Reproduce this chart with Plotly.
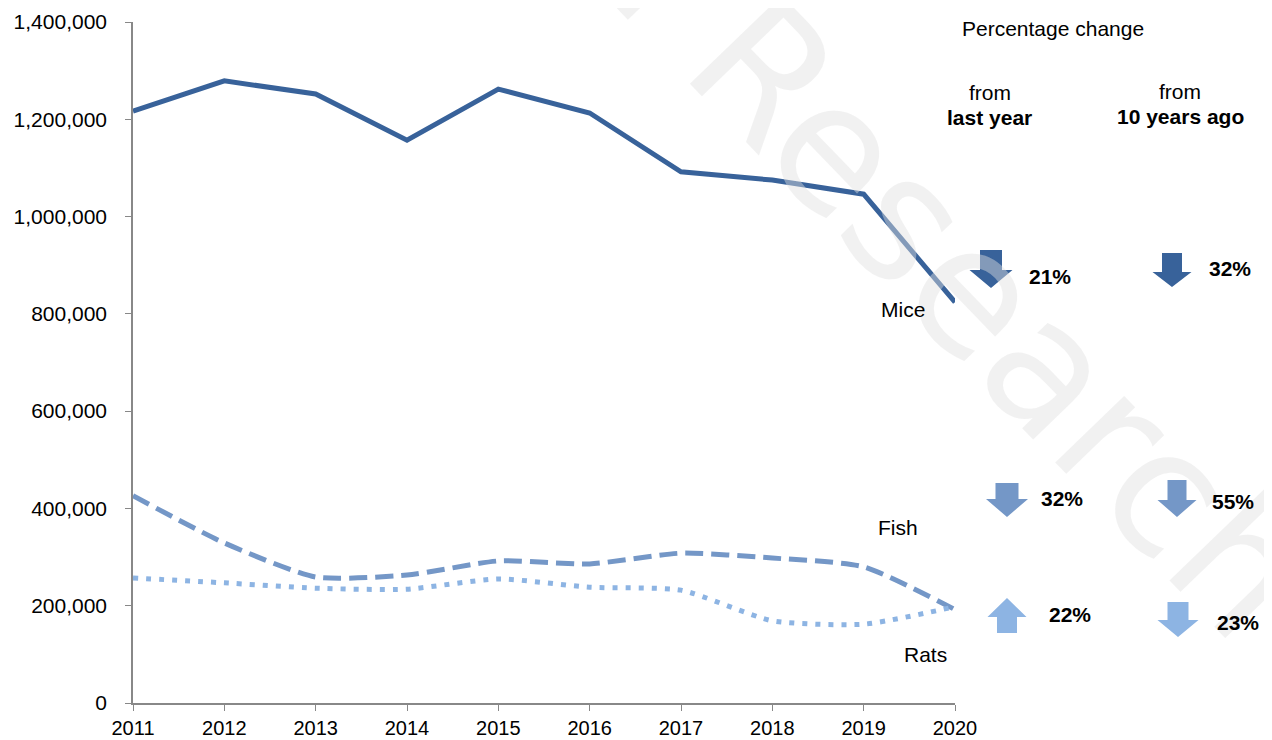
import plotly.graph_objects as go

# data
years = [2011, 2012, 2013, 2014, 2015, 2016, 2017, 2018, 2019, 2020]
mice = [1217000, 1279000, 1252000, 1157000, 1262000, 1213000, 1092000, 1075000, 1046000, 824000]
fish = [426000, 329000, 259000, 263000, 292000, 286000, 308000, 298000, 280000, 192000]
rats = [257000, 247000, 236000, 234000, 255000, 238000, 232000, 169000, 162000, 198000]

y_ticks = [0, 200000, 400000, 600000, 800000, 1000000, 1200000, 1400000]

# percentage change labels (last year, 10 years ago)
change_mice = ["21%", "32%"]
change_fish = ["32%", "55%"]
change_rats = ["22%", "23%"]

c_mice = "#38629a"
c_fish = "#7497c7"
c_rats = "#8db4e3"
font = "Arial, Liberation Sans, sans-serif"

# plot area in page pixels, used to place the side panel items
L, R, T, B = 133, 955, 22, 703
OFF = 8  # page body margin


def px(x):
    return (x - L) / (R - L)


def py(y):
    return (B - y) / (B - T)


def arrow(cx, top, bottom, shaft_w, head_w, head_len, color, up=False):
    if up:
        tip, base = top, bottom
        neck = top + head_len
    else:
        tip, base = bottom, top
        neck = bottom - head_len
    pts = [
        (cx - shaft_w / 2, base), (cx + shaft_w / 2, base),
        (cx + shaft_w / 2, neck), (cx + head_w / 2, neck),
        (cx, tip), (cx - head_w / 2, neck), (cx - shaft_w / 2, neck),
    ]
    path = "M " + " L ".join("%.5f,%.5f" % (px(x), py(y)) for x, y in pts) + " Z"
    return dict(type="path", xref="paper", yref="paper", path=path,
                fillcolor=color, line=dict(width=0), layer="above")


fig = go.Figure()
fig.add_trace(go.Scatter(x=years, y=mice, name="Mice", mode="lines",
                         line=dict(color=c_mice, width=5)))
fig.add_trace(go.Scatter(x=years, y=fish, name="Fish", mode="lines",
                         line=dict(color=c_fish, width=5, dash="18px,8px",
                                   shape="spline", smoothing=0.6)))
fig.add_trace(go.Scatter(x=years, y=rats, name="Rats", mode="lines",
                         line=dict(color=c_rats, width=5, dash="5px,8px",
                                   shape="spline", smoothing=0.6)))

annotations = []


def text(s, x, y, size=21, bold=False, color="#000000", family=font, **kw):
    if bold:
        s = "<b>" + s + "</b>"
    annotations.append(dict(text=s, x=px(x), y=py(y), xref="paper", yref="paper",
                            showarrow=False, xanchor="center", yanchor="middle",
                            font=dict(family=family, size=size, color=color), **kw))


# watermark
text("Animal Research", 771, 80, size=175, color="rgba(225,225,225,0.45)",
     family="DejaVu Sans", textangle=46)

text("Percentage change", 1053, 29)
text("from", 990, 92)
text("last year", 990, 118, bold=True)
text("from", 1180, 91)
text("10 years ago", 1180, 117, bold=True)

text("Mice", 903, 310)
text("Fish", 898, 527)
text("Rats", 925, 654)

text(change_mice[0], 1050, 276, bold=True)
text(change_mice[1], 1230, 268, bold=True)
text(change_fish[0], 1062, 498, bold=True)
text(change_fish[1], 1233, 502, bold=True)
text(change_rats[0], 1070, 614, bold=True)
text(change_rats[1], 1238, 622, bold=True)

shapes = [
    arrow(991, 250, 288, 22, 43, 18, c_mice),
    arrow(1172, 253, 287, 20, 39, 15, c_mice),
    arrow(1007, 483, 517, 23, 42, 18, c_fish),
    arrow(1177, 480, 517, 19, 39, 17, c_fish),
    arrow(1007, 598, 633, 20, 39, 19, c_rats, up=True),
    arrow(1178, 602, 637, 21, 41, 17, c_rats),
]

fig.update_layout(
    width=1272 - OFF, height=740 - OFF,
    margin=dict(l=L - OFF, r=1272 - R, t=T - OFF, b=740 - B, autoexpand=False),
    paper_bgcolor="white", plot_bgcolor="white",
    showlegend=False,
    font=dict(family=font, size=21, color="#000000"),
    annotations=annotations,
    shapes=shapes,
)
fig.update_xaxes(range=[2011, 2020], tickvals=years, ticktext=[str(y) for y in years],
                 showgrid=False, zeroline=False, showline=True, linecolor="#888888",
                 linewidth=1.5, ticks="outside", ticklen=6, tickcolor="#888888",
                 tickfont=dict(size=20), ticklabelstandoff=0, automargin=False)
fig.update_yaxes(range=[0, 1400000], tickvals=y_ticks,
                 ticktext=["{:,}".format(v) for v in y_ticks],
                 showgrid=False, zeroline=False, showline=True, linecolor="#888888",
                 linewidth=1.5, ticks="outside", ticklen=6, tickcolor="#888888",
                 tickfont=dict(size=21), ticklabelstandoff=14, automargin=False)

fig.write_html("out.html")
